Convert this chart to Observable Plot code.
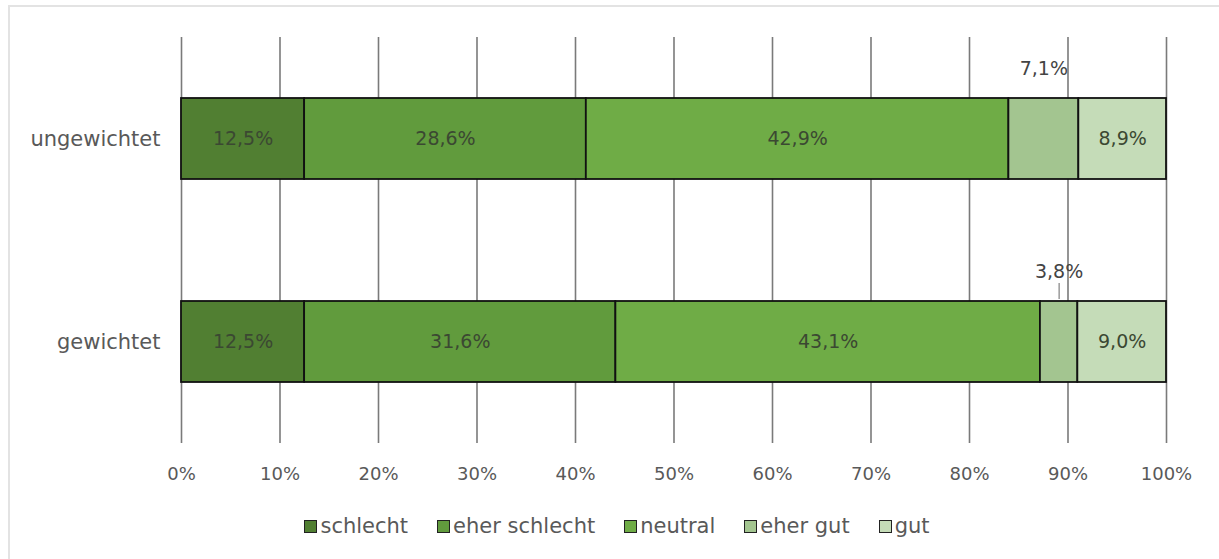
<!DOCTYPE html>
<html>
<head>
<meta charset="utf-8">
<script src="https://cdn.jsdelivr.net/npm/d3@7"></script>
<script src="https://cdn.jsdelivr.net/npm/@observablehq/plot@0.6"></script>
<style>
  html, body { margin: 0; padding: 0; background: #fff; }
  body { width: 1219px; height: 559px; position: relative; overflow: hidden; font-family: "DejaVu Sans", sans-serif; }
  #frame { position: absolute; left: 8px; top: 5px; width: 1220px; height: 570px; border: 2px solid #e3e3e3; box-sizing: border-box; }
  #chart { position: absolute; left: 0; top: 0; }
  #legend { position: absolute; top: 514px; left: 0; width: 1234px; display: flex; justify-content: center; gap: 29px; font-size: 21px; color: #595959; }
  .item { display: flex; align-items: center; gap: 3px; }
  .sw { width: 11px; height: 11px; border: 1.5px solid #222; }
  #chart svg g[aria-label="y-axis tick label"] text { font-size: 21px; }
</style>
</head>
<body>
<div id="frame"></div>
<div id="chart"></div>
<div id="legend"></div>
<script>
const groups = ["ungewichtet", "gewichtet"];
const categories = ["schlecht", "eher schlecht", "neutral", "eher gut", "gut"];
const colors = ["#517f32", "#619b3d", "#6fac46", "#a3c590", "#c5dcb8"];
const ungewichtet = [12.5, 28.6, 42.9, 7.1, 8.9];
const gewichtet = [12.5, 31.6, 43.1, 3.8, 9.0];
const xTicks = [0, 10, 20, 30, 40, 50, 60, 70, 80, 90, 100];

const data = [];
categories.forEach((c, i) => data.push({group: "ungewichtet", cat: c, value: ungewichtet[i]}));
categories.forEach((c, i) => data.push({group: "gewichtet", cat: c, value: gewichtet[i]}));

const fmt = v => v.toFixed(1).replace(".", ",") + "%";

const plot = Plot.plot({
  width: 1219,
  height: 500,
  marginLeft: 181,
  marginRight: 53,
  marginTop: 37,
  marginBottom: 57,
  style: {fontFamily: "DejaVu Sans, sans-serif", fontSize: "18px", color: "#595959", background: "transparent"},
  x: {domain: [0, 100], ticks: xTicks, tickFormat: d => d + "%", label: null, tickSize: 0, tickPadding: 24},
  y: {domain: groups, paddingInner: 0.6, paddingOuter: 0.3, label: null, tickSize: 0, tickPadding: 21},
  color: {domain: categories, range: colors},
  marks: [
    Plot.gridX(xTicks, {stroke: "#7a7a7a", strokeOpacity: 1, strokeWidth: 1.6}),
    Plot.barX(data, Plot.stackX({x: "value", y: "group", z: "cat", fill: "cat", stroke: "#111", strokeWidth: 1.8, order: categories})),
    Plot.text(data, Plot.stackX({x: "value", y: "group", z: "cat", order: categories,
      text: d => d.value >= 8 ? fmt(d.value) : null, fill: "#3b4832", fontSize: 19})),
    Plot.text(data, Plot.stackX({x: "value", y: "group", z: "cat", order: categories,
      text: d => d.value < 8 ? fmt(d.value) : null, fill: "#444", fontSize: 19, dy: -70, dx: 0})),
    Plot.tickX(data, Plot.stackX({x: "value", y: "group", z: "cat", order: categories,
      strokeOpacity: d => (d.group === "gewichtet" && d.cat === "eher gut") ? 1 : 0,
      stroke: "#8a8a8a", strokeWidth: 1.3, insetTop: -18, insetBottom: 83}))
  ]
});
document.getElementById("chart").appendChild(plot);

const legend = document.getElementById("legend");
categories.forEach((c, i) => {
  const it = document.createElement("div");
  it.className = "item";
  const sw = document.createElement("div");
  sw.className = "sw";
  sw.style.background = colors[i];
  const tx = document.createElement("span");
  tx.textContent = c;
  it.appendChild(sw); it.appendChild(tx);
  legend.appendChild(it);
});
</script>
</body>
</html>
